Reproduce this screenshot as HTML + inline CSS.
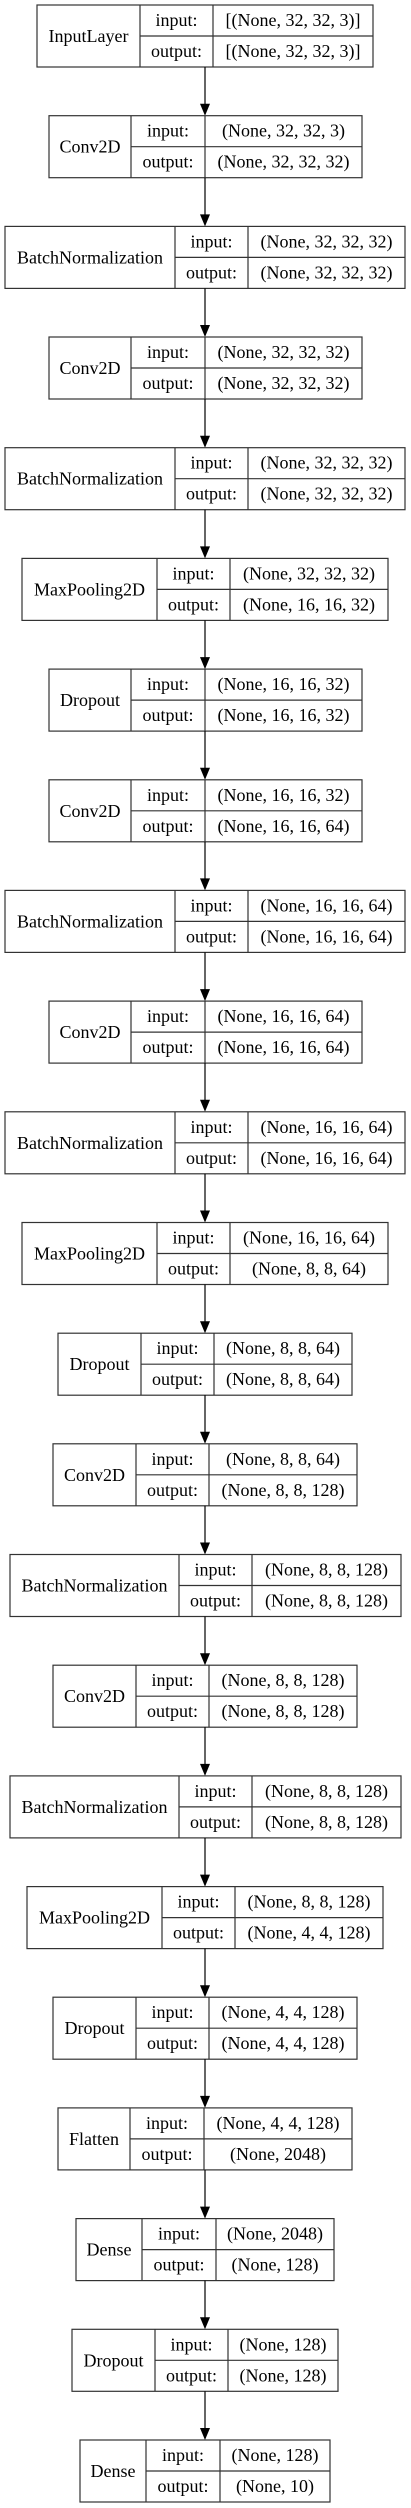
<!DOCTYPE html>
<html><head><meta charset="utf-8"><style>
html,body{margin:0;padding:0;background:#fff;width:411px;height:2508px;overflow:hidden}
svg{display:block}
text{font-family:"Liberation Serif",serif;font-size:18px;fill:#000;text-anchor:middle}
.b{fill:none;stroke:#333;stroke-width:1.2}
.a{stroke:#000;stroke-width:1.2}
</style></head><body>
<svg width="411" height="2508" viewBox="0 0 411 2508" xmlns="http://www.w3.org/2000/svg">
<!-- 0 InputLayer -->
<g><rect class="b" x="37" y="5" width="336" height="62"/><line class="b" x1="140" y1="5" x2="140" y2="67"/><line class="b" x1="213" y1="5" x2="213" y2="67"/><line class="b" x1="140" y1="36" x2="373" y2="36"/>
<text x="88.5" y="42">InputLayer</text><text x="176.5" y="26">input:</text><text x="176.5" y="57">output:</text><text x="293" y="26">[(None, 32, 32, 3)]</text><text x="293" y="57">[(None, 32, 32, 3)]</text></g>
<line class="a" x1="205" y1="67" x2="205" y2="104"/><polygon points="200,103.7 210,103.7 205,115.7"/>
<!-- 1 Conv2D -->
<g><rect class="b" x="49" y="115.7" width="313" height="62"/><line class="b" x1="131" y1="115.7" x2="131" y2="177.7"/><line class="b" x1="205" y1="115.7" x2="205" y2="177.7"/><line class="b" x1="131" y1="146.7" x2="362" y2="146.7"/>
<text x="90" y="152.7">Conv2D</text><text x="168" y="136.7">input:</text><text x="168" y="167.7">output:</text><text x="283.5" y="136.7">(None, 32, 32, 3)</text><text x="283.5" y="167.7">(None, 32, 32, 32)</text></g>
<line class="a" x1="205" y1="177.7" x2="205" y2="215"/><polygon points="200,214.4 210,214.4 205,226.4"/>
<!-- 2 BN -->
<g><rect class="b" x="5" y="226.4" width="400" height="62"/><line class="b" x1="175" y1="226.4" x2="175" y2="288.4"/><line class="b" x1="248" y1="226.4" x2="248" y2="288.4"/><line class="b" x1="175" y1="257.4" x2="405" y2="257.4"/>
<text x="90" y="263.4">BatchNormalization</text><text x="211.5" y="247.4">input:</text><text x="211.5" y="278.4">output:</text><text x="326.5" y="247.4">(None, 32, 32, 32)</text><text x="326.5" y="278.4">(None, 32, 32, 32)</text></g>
<line class="a" x1="205" y1="288.4" x2="205" y2="326"/><polygon points="200,325 210,325 205,337"/>
<!-- 3 Conv2D -->
<g><rect class="b" x="49" y="337" width="313" height="62"/><line class="b" x1="131" y1="337" x2="131" y2="399"/><line class="b" x1="205" y1="337" x2="205" y2="399"/><line class="b" x1="131" y1="368" x2="362" y2="368"/>
<text x="90" y="374">Conv2D</text><text x="168" y="358">input:</text><text x="168" y="389">output:</text><text x="283.5" y="358">(None, 32, 32, 32)</text><text x="283.5" y="389">(None, 32, 32, 32)</text></g>
<line class="a" x1="205" y1="399" x2="205" y2="436"/><polygon points="200,435.7 210,435.7 205,447.7"/>
<!-- 4 BN -->
<g><rect class="b" x="5" y="447.7" width="400" height="62"/><line class="b" x1="175" y1="447.7" x2="175" y2="509.7"/><line class="b" x1="248" y1="447.7" x2="248" y2="509.7"/><line class="b" x1="175" y1="478.7" x2="405" y2="478.7"/>
<text x="90" y="484.7">BatchNormalization</text><text x="211.5" y="468.7">input:</text><text x="211.5" y="499.7">output:</text><text x="326.5" y="468.7">(None, 32, 32, 32)</text><text x="326.5" y="499.7">(None, 32, 32, 32)</text></g>
<line class="a" x1="205" y1="509.7" x2="205" y2="547"/><polygon points="200,546.4 210,546.4 205,558.4"/>
<!-- 5 MaxPool -->
<g><rect class="b" x="22" y="558.4" width="366" height="62"/><line class="b" x1="157" y1="558.4" x2="157" y2="620.4"/><line class="b" x1="230" y1="558.4" x2="230" y2="620.4"/><line class="b" x1="157" y1="589.4" x2="388" y2="589.4"/>
<text x="89.5" y="595.4">MaxPooling2D</text><text x="193.5" y="579.4">input:</text><text x="193.5" y="610.4">output:</text><text x="309" y="579.4">(None, 32, 32, 32)</text><text x="309" y="610.4">(None, 16, 16, 32)</text></g>
<line class="a" x1="205" y1="620.4" x2="205" y2="658"/><polygon points="200,657.1 210,657.1 205,669.1"/>
<!-- 6 Dropout -->
<g><rect class="b" x="49" y="669.1" width="313" height="62"/><line class="b" x1="131" y1="669.1" x2="131" y2="731.1"/><line class="b" x1="205" y1="669.1" x2="205" y2="731.1"/><line class="b" x1="131" y1="700.1" x2="362" y2="700.1"/>
<text x="90" y="706.1">Dropout</text><text x="168" y="690.1">input:</text><text x="168" y="721.1">output:</text><text x="283.5" y="690.1">(None, 16, 16, 32)</text><text x="283.5" y="721.1">(None, 16, 16, 32)</text></g>
<line class="a" x1="205" y1="731.1" x2="205" y2="768"/><polygon points="200,767.8 210,767.8 205,779.8"/>
<!-- 7 Conv2D -->
<g><rect class="b" x="49" y="779.8" width="313" height="62"/><line class="b" x1="131" y1="779.8" x2="131" y2="841.8"/><line class="b" x1="205" y1="779.8" x2="205" y2="841.8"/><line class="b" x1="131" y1="810.8" x2="362" y2="810.8"/>
<text x="90" y="816.8">Conv2D</text><text x="168" y="800.8">input:</text><text x="168" y="831.8">output:</text><text x="283.5" y="800.8">(None, 16, 16, 32)</text><text x="283.5" y="831.8">(None, 16, 16, 64)</text></g>
<line class="a" x1="205" y1="841.8" x2="205" y2="879"/><polygon points="200,878.4 210,878.4 205,890.4"/>
<!-- 8 BN -->
<g><rect class="b" x="5" y="890.4" width="400" height="62"/><line class="b" x1="175" y1="890.4" x2="175" y2="952.4"/><line class="b" x1="248" y1="890.4" x2="248" y2="952.4"/><line class="b" x1="175" y1="921.4" x2="405" y2="921.4"/>
<text x="90" y="927.4">BatchNormalization</text><text x="211.5" y="911.4">input:</text><text x="211.5" y="942.4">output:</text><text x="326.5" y="911.4">(None, 16, 16, 64)</text><text x="326.5" y="942.4">(None, 16, 16, 64)</text></g>
<line class="a" x1="205" y1="952.4" x2="205" y2="990"/><polygon points="200,989.1 210,989.1 205,1001.1"/>
<!-- 9 Conv2D -->
<g><rect class="b" x="49" y="1001.1" width="313" height="62"/><line class="b" x1="131" y1="1001.1" x2="131" y2="1063.1"/><line class="b" x1="205" y1="1001.1" x2="205" y2="1063.1"/><line class="b" x1="131" y1="1032.1" x2="362" y2="1032.1"/>
<text x="90" y="1038.1">Conv2D</text><text x="168" y="1022.1">input:</text><text x="168" y="1053.1">output:</text><text x="283.5" y="1022.1">(None, 16, 16, 64)</text><text x="283.5" y="1053.1">(None, 16, 16, 64)</text></g>
<line class="a" x1="205" y1="1063.1" x2="205" y2="1100"/><polygon points="200,1099.8 210,1099.8 205,1111.8"/>
<!-- 10 BN -->
<g><rect class="b" x="5" y="1111.8" width="400" height="62"/><line class="b" x1="175" y1="1111.8" x2="175" y2="1173.8"/><line class="b" x1="248" y1="1111.8" x2="248" y2="1173.8"/><line class="b" x1="175" y1="1142.8" x2="405" y2="1142.8"/>
<text x="90" y="1148.8">BatchNormalization</text><text x="211.5" y="1132.8">input:</text><text x="211.5" y="1163.8">output:</text><text x="326.5" y="1132.8">(None, 16, 16, 64)</text><text x="326.5" y="1163.8">(None, 16, 16, 64)</text></g>
<line class="a" x1="205" y1="1173.8" x2="205" y2="1211"/><polygon points="200,1210.5 210,1210.5 205,1222.5"/>
<!-- 11 MaxPool -->
<g><rect class="b" x="22" y="1222.5" width="366" height="62"/><line class="b" x1="157" y1="1222.5" x2="157" y2="1284.5"/><line class="b" x1="230" y1="1222.5" x2="230" y2="1284.5"/><line class="b" x1="157" y1="1253.5" x2="388" y2="1253.5"/>
<text x="89.5" y="1259.5">MaxPooling2D</text><text x="193.5" y="1243.5">input:</text><text x="193.5" y="1274.5">output:</text><text x="309" y="1243.5">(None, 16, 16, 64)</text><text x="309" y="1274.5">(None, 8, 8, 64)</text></g>
<line class="a" x1="205" y1="1284.5" x2="205" y2="1322"/><polygon points="200,1321.2 210,1321.2 205,1333.2"/>
<!-- 12 Dropout -->
<g><rect class="b" x="58" y="1333.2" width="294" height="62"/><line class="b" x1="141" y1="1333.2" x2="141" y2="1395.2"/><line class="b" x1="214" y1="1333.2" x2="214" y2="1395.2"/><line class="b" x1="141" y1="1364.2" x2="352" y2="1364.2"/>
<text x="99.5" y="1370.2">Dropout</text><text x="177.5" y="1354.2">input:</text><text x="177.5" y="1385.2">output:</text><text x="283" y="1354.2">(None, 8, 8, 64)</text><text x="283" y="1385.2">(None, 8, 8, 64)</text></g>
<line class="a" x1="205" y1="1395.2" x2="205" y2="1432"/><polygon points="200,1431.8 210,1431.8 205,1443.8"/>
<!-- 13 Conv2D -->
<g><rect class="b" x="53" y="1443.8" width="304" height="62"/><line class="b" x1="136" y1="1443.8" x2="136" y2="1505.8"/><line class="b" x1="209" y1="1443.8" x2="209" y2="1505.8"/><line class="b" x1="136" y1="1474.8" x2="357" y2="1474.8"/>
<text x="94.5" y="1480.8">Conv2D</text><text x="172.5" y="1464.8">input:</text><text x="172.5" y="1495.8">output:</text><text x="283" y="1464.8">(None, 8, 8, 64)</text><text x="283" y="1495.8">(None, 8, 8, 128)</text></g>
<line class="a" x1="205" y1="1505.8" x2="205" y2="1543"/><polygon points="200,1542.5 210,1542.5 205,1554.5"/>
<!-- 14 BN -->
<g><rect class="b" x="10" y="1554.5" width="391" height="62"/><line class="b" x1="179" y1="1554.5" x2="179" y2="1616.5"/><line class="b" x1="252" y1="1554.5" x2="252" y2="1616.5"/><line class="b" x1="179" y1="1585.5" x2="401" y2="1585.5"/>
<text x="94.5" y="1591.5">BatchNormalization</text><text x="215.5" y="1575.5">input:</text><text x="215.5" y="1606.5">output:</text><text x="326.5" y="1575.5">(None, 8, 8, 128)</text><text x="326.5" y="1606.5">(None, 8, 8, 128)</text></g>
<line class="a" x1="205" y1="1616.5" x2="205" y2="1654"/><polygon points="200,1653.2 210,1653.2 205,1665.2"/>
<!-- 15 Conv2D -->
<g><rect class="b" x="53" y="1665.2" width="304" height="62"/><line class="b" x1="136" y1="1665.2" x2="136" y2="1727.2"/><line class="b" x1="209" y1="1665.2" x2="209" y2="1727.2"/><line class="b" x1="136" y1="1696.2" x2="357" y2="1696.2"/>
<text x="94.5" y="1702.2">Conv2D</text><text x="172.5" y="1686.2">input:</text><text x="172.5" y="1717.2">output:</text><text x="283" y="1686.2">(None, 8, 8, 128)</text><text x="283" y="1717.2">(None, 8, 8, 128)</text></g>
<line class="a" x1="205" y1="1727.2" x2="205" y2="1764"/><polygon points="200,1763.9 210,1763.9 205,1775.9"/>
<!-- 16 BN -->
<g><rect class="b" x="10" y="1775.9" width="391" height="62"/><line class="b" x1="179" y1="1775.9" x2="179" y2="1837.9"/><line class="b" x1="252" y1="1775.9" x2="252" y2="1837.9"/><line class="b" x1="179" y1="1806.9" x2="401" y2="1806.9"/>
<text x="94.5" y="1812.9">BatchNormalization</text><text x="215.5" y="1796.9">input:</text><text x="215.5" y="1827.9">output:</text><text x="326.5" y="1796.9">(None, 8, 8, 128)</text><text x="326.5" y="1827.9">(None, 8, 8, 128)</text></g>
<line class="a" x1="205" y1="1837.9" x2="205" y2="1875"/><polygon points="200,1874.6 210,1874.6 205,1886.6"/>
<!-- 17 MaxPool -->
<g><rect class="b" x="27" y="1886.6" width="356" height="62"/><line class="b" x1="162" y1="1886.6" x2="162" y2="1948.6"/><line class="b" x1="235" y1="1886.6" x2="235" y2="1948.6"/><line class="b" x1="162" y1="1917.6" x2="383" y2="1917.6"/>
<text x="94.5" y="1923.6">MaxPooling2D</text><text x="198.5" y="1907.6">input:</text><text x="198.5" y="1938.6">output:</text><text x="309" y="1907.6">(None, 8, 8, 128)</text><text x="309" y="1938.6">(None, 4, 4, 128)</text></g>
<line class="a" x1="205" y1="1948.6" x2="205" y2="1986"/><polygon points="200,1985.2 210,1985.2 205,1997.2"/>
<!-- 18 Dropout -->
<g><rect class="b" x="53" y="1997.2" width="304" height="62"/><line class="b" x1="136" y1="1997.2" x2="136" y2="2059.2"/><line class="b" x1="209" y1="1997.2" x2="209" y2="2059.2"/><line class="b" x1="136" y1="2028.2" x2="357" y2="2028.2"/>
<text x="94.5" y="2034.2">Dropout</text><text x="172.5" y="2018.2">input:</text><text x="172.5" y="2049.2">output:</text><text x="283" y="2018.2">(None, 4, 4, 128)</text><text x="283" y="2049.2">(None, 4, 4, 128)</text></g>
<line class="a" x1="205" y1="2059.2" x2="205" y2="2096"/><polygon points="200,2095.9 210,2095.9 205,2107.9"/>
<!-- 19 Flatten -->
<g><rect class="b" x="58" y="2107.9" width="294" height="62"/><line class="b" x1="130" y1="2107.9" x2="130" y2="2169.9"/><line class="b" x1="204" y1="2107.9" x2="204" y2="2169.9"/><line class="b" x1="130" y1="2138.9" x2="352" y2="2138.9"/>
<text x="94" y="2144.9">Flatten</text><text x="167" y="2128.9">input:</text><text x="167" y="2159.9">output:</text><text x="278" y="2128.9">(None, 4, 4, 128)</text><text x="278" y="2159.9">(None, 2048)</text></g>
<line class="a" x1="205" y1="2169.9" x2="205" y2="2207"/><polygon points="200,2206.6 210,2206.6 205,2218.6"/>
<!-- 20 Dense -->
<g><rect class="b" x="76" y="2218.6" width="258" height="62"/><line class="b" x1="142" y1="2218.6" x2="142" y2="2280.6"/><line class="b" x1="216" y1="2218.6" x2="216" y2="2280.6"/><line class="b" x1="142" y1="2249.6" x2="334" y2="2249.6"/>
<text x="109" y="2255.6">Dense</text><text x="179" y="2239.6">input:</text><text x="179" y="2270.6">output:</text><text x="275" y="2239.6">(None, 2048)</text><text x="275" y="2270.6">(None, 128)</text></g>
<line class="a" x1="205" y1="2280.6" x2="205" y2="2318"/><polygon points="200,2317.3 210,2317.3 205,2329.3"/>
<!-- 21 Dropout -->
<g><rect class="b" x="72" y="2329.3" width="266" height="62"/><line class="b" x1="155" y1="2329.3" x2="155" y2="2391.3"/><line class="b" x1="228" y1="2329.3" x2="228" y2="2391.3"/><line class="b" x1="155" y1="2360.3" x2="338" y2="2360.3"/>
<text x="113.5" y="2366.3">Dropout</text><text x="191.5" y="2350.3">input:</text><text x="191.5" y="2381.3">output:</text><text x="283" y="2350.3">(None, 128)</text><text x="283" y="2381.3">(None, 128)</text></g>
<line class="a" x1="205" y1="2391.3" x2="205" y2="2428.5"/><polygon points="200,2428 210,2428 205,2440"/>
<!-- 22 Dense -->
<g><rect class="b" x="80" y="2440" width="250" height="62"/><line class="b" x1="146" y1="2440" x2="146" y2="2502"/><line class="b" x1="220" y1="2440" x2="220" y2="2502"/><line class="b" x1="146" y1="2471" x2="330" y2="2471"/>
<text x="113" y="2477">Dense</text><text x="183" y="2461">input:</text><text x="183" y="2492">output:</text><text x="275" y="2461">(None, 128)</text><text x="275" y="2492">(None, 10)</text></g>
</svg>
</body></html>
